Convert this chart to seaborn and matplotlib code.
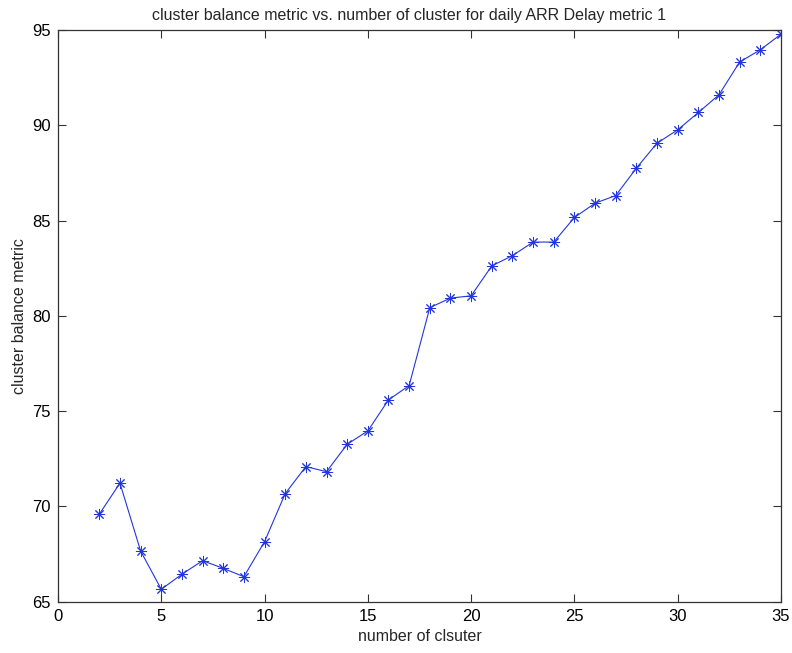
import matplotlib
matplotlib.use("Agg")
import matplotlib.pyplot as plt
import seaborn as sns
import pandas as pd

# number of clusters and the corresponding balance metric
n_clusters = list(range(2, 36))
balance_metric = [69.59, 71.22, 67.66, 65.65, 66.44, 67.15, 66.75, 66.31, 68.15,
                  70.67, 72.09, 71.82, 73.26, 73.96, 75.59, 76.34, 80.43, 80.93,
                  81.05, 82.62, 83.16, 83.87, 83.87, 85.16, 85.91, 86.31, 87.75,
                  89.06, 89.76, 90.67, 91.60, 93.32, 93.96, 94.78]
x_ticks = [0, 5, 10, 15, 20, 25, 30, 35]
y_ticks = [65, 70, 75, 80, 85, 90, 95]

sns.set_style("ticks")
plt.rcParams["font.family"] = ["Liberation Sans", "DejaVu Sans"]

df = pd.DataFrame({"clusters": n_clusters, "metric": balance_metric})

fig = plt.figure(figsize=(7.92, 6.53), dpi=100)
ax = fig.add_axes([0.0732, 0.0786, 0.9129, 0.8755])

blue = "#2236dd"
sns.lineplot(data=df, x="clusters", y="metric", ax=ax, color=blue,
             linewidth=0.8, marker=(8, 2, 0), markersize=8,
             markeredgecolor=blue, markeredgewidth=0.7)

ax.set_xlim(0, 35)
ax.set_ylim(65, 95)
ax.set_xticks(x_ticks)
ax.set_yticks(y_ticks)
ax.tick_params(direction="in", length=6, width=0.8, labelsize=12, pad=5,
               top=True, right=True, colors="#333333", labelcolor="black")
for side in ["top", "right", "bottom", "left"]:
    ax.spines[side].set_visible(True)
    ax.spines[side].set_linewidth(0.9)
    ax.spines[side].set_color("#333333")

ax.set_xlabel("number of clsuter", fontsize=11.5, labelpad=4)
ax.set_ylabel("cluster balance metric", fontsize=11.5)
ax.set_title("cluster balance metric vs. number of cluster for daily ARR Delay metric 1",
             fontsize=11.5, pad=7, x=0.485)

fig.savefig("out.png", dpi=100)
